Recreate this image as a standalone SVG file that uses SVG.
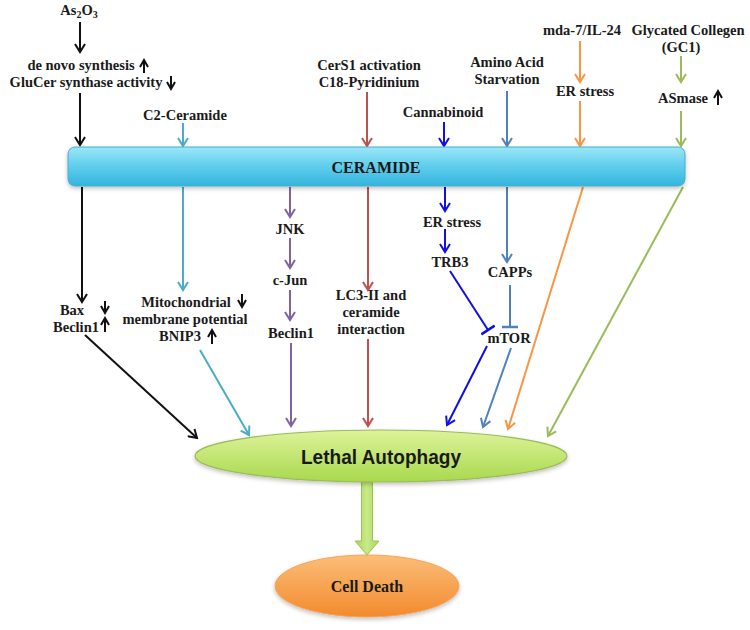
<svg xmlns="http://www.w3.org/2000/svg" width="750" height="630" viewBox="0 0 750 630">
<style>
.t{font-family:"Liberation Serif","Times New Roman",serif;font-weight:bold;font-size:14.5px;fill:#1a1a1a;text-anchor:middle}
.c{fill:none;stroke-width:2}
.k{stroke:#111}.cy{stroke:#4BACC6}.pu{stroke:#8064A2}.rd{stroke:#C0504D}.bl{stroke:#1010E0}.sb{stroke:#4F81BD}.or{stroke:#F79646}.gr{stroke:#9BBB59}
</style>
<defs>
<marker id="ak" markerUnits="userSpaceOnUse" markerWidth="12" markerHeight="12" viewBox="0 0 12 12" refX="10" refY="6" orient="auto"><path d="M2,1 L10,6 L2,11" fill="none" stroke="#111" stroke-width="2"/></marker>
<marker id="acy" markerUnits="userSpaceOnUse" markerWidth="12" markerHeight="12" viewBox="0 0 12 12" refX="10" refY="6" orient="auto"><path d="M2,1 L10,6 L2,11" fill="none" stroke="#4BACC6" stroke-width="2"/></marker>
<marker id="apu" markerUnits="userSpaceOnUse" markerWidth="12" markerHeight="12" viewBox="0 0 12 12" refX="10" refY="6" orient="auto"><path d="M2,1 L10,6 L2,11" fill="none" stroke="#8064A2" stroke-width="2"/></marker>
<marker id="ard" markerUnits="userSpaceOnUse" markerWidth="12" markerHeight="12" viewBox="0 0 12 12" refX="10" refY="6" orient="auto"><path d="M2,1 L10,6 L2,11" fill="none" stroke="#C0504D" stroke-width="2"/></marker>
<marker id="abl" markerUnits="userSpaceOnUse" markerWidth="12" markerHeight="12" viewBox="0 0 12 12" refX="10" refY="6" orient="auto"><path d="M2,1 L10,6 L2,11" fill="none" stroke="#1010E0" stroke-width="2"/></marker>
<marker id="asb" markerUnits="userSpaceOnUse" markerWidth="12" markerHeight="12" viewBox="0 0 12 12" refX="10" refY="6" orient="auto"><path d="M2,1 L10,6 L2,11" fill="none" stroke="#4F81BD" stroke-width="2"/></marker>
<marker id="aor" markerUnits="userSpaceOnUse" markerWidth="12" markerHeight="12" viewBox="0 0 12 12" refX="10" refY="6" orient="auto"><path d="M2,1 L10,6 L2,11" fill="none" stroke="#F79646" stroke-width="2"/></marker>
<marker id="agr" markerUnits="userSpaceOnUse" markerWidth="12" markerHeight="12" viewBox="0 0 12 12" refX="10" refY="6" orient="auto"><path d="M2,1 L10,6 L2,11" fill="none" stroke="#9BBB59" stroke-width="2"/></marker>
<marker id="ask" markerUnits="userSpaceOnUse" markerWidth="10" markerHeight="10" viewBox="0 0 10 10" refX="8" refY="5" orient="auto"><path d="M1,1 L8,5 L1,9" fill="none" stroke="#111" stroke-width="2"/></marker>
<marker id="tbl" markerUnits="userSpaceOnUse" markerWidth="4" markerHeight="16" viewBox="0 0 4 16" refX="2" refY="8" orient="auto"><path d="M2,0 L2,16" stroke="#1010E0" stroke-width="2.5"/></marker>
<marker id="tsb" markerUnits="userSpaceOnUse" markerWidth="4" markerHeight="16" viewBox="0 0 4 16" refX="2" refY="8" orient="auto"><path d="M2,0 L2,16" stroke="#4F81BD" stroke-width="2.5"/></marker>
<linearGradient id="gCer" x1="0" y1="0" x2="0" y2="1"><stop offset="0" stop-color="#9BE6F8"/><stop offset="0.5" stop-color="#5FCDEC"/><stop offset="1" stop-color="#32B5DD"/></linearGradient>
<linearGradient id="gLA" x1="0" y1="0" x2="0" y2="1"><stop offset="0" stop-color="#DDF39A"/><stop offset="1" stop-color="#A9D94E"/></linearGradient>
<linearGradient id="gCD" x1="0" y1="0" x2="0" y2="1"><stop offset="0" stop-color="#FBBE78"/><stop offset="1" stop-color="#F28A2E"/></linearGradient>
<linearGradient id="gAr" x1="0" y1="0" x2="1" y2="0"><stop offset="0" stop-color="#A7D55A"/><stop offset="0.5" stop-color="#C9EA88"/><stop offset="1" stop-color="#A7D55A"/></linearGradient>
<filter id="sh" x="-10%" y="-30%" width="120%" height="170%"><feDropShadow dx="0" dy="2" stdDeviation="2" flood-color="#000" flood-opacity="0.25"/></filter>
</defs>
<rect width="750" height="630" fill="#fff"/>

<g id="connectors">
<path class="c k" d="M80,22 V52" marker-end="url(#ak)"/>
<path class="c k" d="M80,93 V145" marker-end="url(#ak)"/>
<path class="c k" d="M82,187 V302" marker-end="url(#ak)"/>
<path class="c k" d="M85,335 L197,438" marker-end="url(#ak)"/>
<path class="c cy" d="M183,123 V146" marker-end="url(#acy)"/>
<path class="c cy" d="M183,187 V290" marker-end="url(#acy)"/>
<path class="c cy" d="M200,350 L249,435" marker-end="url(#acy)"/>
<path class="c pu" d="M290,187 V217" marker-end="url(#apu)"/>
<path class="c pu" d="M290,238 V268" marker-end="url(#apu)"/>
<path class="c pu" d="M290,290 V320" marker-end="url(#apu)"/>
<path class="c pu" d="M291,343 V426" marker-end="url(#apu)"/>
<path class="c rd" d="M367,92 V146" marker-end="url(#ard)"/>
<path class="c rd" d="M368,187 V290" marker-end="url(#ard)"/>
<path class="c rd" d="M368,339 V426" marker-end="url(#ard)"/>
<path class="c bl" d="M444,122 V146" marker-end="url(#abl)"/>
<path class="c bl" d="M445,187 V211" marker-end="url(#abl)"/>
<path class="c bl" d="M445,229 V252" marker-end="url(#abl)"/>
<path class="c bl" d="M450,271 L488,330" marker-end="url(#tbl)"/>
<path class="c bl" d="M487,346 L447,425" marker-end="url(#abl)"/>
<path class="c sb" d="M507,91 V146" marker-end="url(#asb)"/>
<path class="c sb" d="M507,187 V262" marker-end="url(#asb)"/>
<path class="c sb" d="M510,285 V327" marker-end="url(#tsb)"/>
<path class="c sb" d="M511,348 L483,427" marker-end="url(#asb)"/>
<path class="c or" d="M580,41 V82" marker-end="url(#aor)"/>
<path class="c or" d="M580,101 V146" marker-end="url(#aor)"/>
<path class="c or" d="M583,187 L508,429" marker-end="url(#aor)"/>
<path class="c gr" d="M681,56 V82" marker-end="url(#agr)"/>
<path class="c gr" d="M681,111 V146" marker-end="url(#agr)"/>
<path class="c gr" d="M683,187 L548,436" marker-end="url(#agr)"/>
<path d="M361.5,482 H372.5 V541 H379 L367,555 L355,541 H361.5 Z" fill="url(#gAr)" stroke="#9BC450" stroke-width="1"/>
</g>

<g id="ceramide">
<rect x="68" y="147" width="617" height="39" rx="7" fill="url(#gCer)" stroke="#4BACC6" stroke-width="1" filter="url(#sh)"/>
<text x="376" y="173" class="t" style="font-size:16px">CERAMIDE</text>
</g>

<g id="lethal-autophagy">
<ellipse cx="381" cy="456" rx="186" ry="26" fill="url(#gLA)" stroke="#9BBB59" stroke-width="1.2" filter="url(#sh)"/>
<text x="381" y="464" textLength="160" lengthAdjust="spacingAndGlyphs" style="font-family:'Liberation Sans',Arial,sans-serif;font-weight:bold;font-size:20px;fill:#1a1a1a;text-anchor:middle">Lethal Autophagy</text>
</g>

<g id="cell-death">
<ellipse cx="367" cy="586" rx="92" ry="31" fill="url(#gCD)" stroke="#F5A55A" stroke-width="1" filter="url(#sh)"/>
<text x="367" y="592" class="t" style="font-size:16px">Cell Death</text>
</g>

<g id="as2o3"><text x="79" y="15" class="t">As<tspan dy="3" font-size="10">2</tspan><tspan dy="-3">O</tspan><tspan dy="3" font-size="10">3</tspan></text></g>

<g id="denovo">
<text x="81" y="70" class="t">de novo synthesis</text>
<text x="86" y="87" class="t">GluCer synthase activity</text>
<path class="c k" d="M144,73 V60" marker-end="url(#ask)"/>
<path class="c k" d="M171,76 V89" marker-end="url(#ask)"/>
</g>

<g id="c2"><text x="185" y="120" class="t">C2-Ceramide</text></g>

<g id="bax">
<text x="72" y="315" class="t">Bax</text>
<text x="76" y="332" class="t">Beclin1</text>
<path class="c k" d="M105,301 V313" marker-end="url(#ask)"/>
<path class="c k" d="M105,332 V318" marker-end="url(#ask)"/>
</g>

<g id="mito">
<text x="186" y="307" class="t">Mitochondrial</text>
<text x="185" y="324" class="t">membrane potential</text>
<text x="180" y="341" class="t">BNIP3</text>
<path class="c k" d="M242,294 V307" marker-end="url(#ask)"/>
<path class="c k" d="M212,344 V330" marker-end="url(#ask)"/>
</g>

<g id="jnk"><text x="290" y="234" class="t">JNK</text></g>
<g id="cjun"><text x="290" y="285" class="t">c-Jun</text></g>
<g id="beclin1"><text x="291" y="338" class="t">Beclin1</text></g>

<g id="cers1">
<text x="369" y="70" class="t">CerS1 activation</text>
<text x="369" y="87" class="t">C18-Pyridinium</text>
</g>

<g id="lc3">
<text x="371" y="300" class="t">LC3-II and</text>
<text x="371" y="317" class="t">ceramide</text>
<text x="371" y="334" class="t">interaction</text>
</g>

<g id="cannabinoid"><text x="443" y="117" class="t">Cannabinoid</text></g>
<g id="er-stress-1"><text x="452" y="227" class="t">ER stress</text></g>
<g id="trb3"><text x="450" y="267" class="t">TRB3</text></g>

<g id="amino">
<text x="507" y="67" class="t">Amino Acid</text>
<text x="507" y="84" class="t">Starvation</text>
</g>
<g id="capps"><text x="510" y="277" class="t">CAPPs</text></g>
<g id="mtor"><text x="509" y="343" class="t">mTOR</text></g>

<g id="mda7"><text x="582" y="35" class="t">mda-7/IL-24</text></g>
<g id="er-stress-2"><text x="585" y="96" class="t">ER stress</text></g>

<g id="glycated">
<text x="688" y="35" class="t">Glycated Collegen</text>
<text x="681" y="52" class="t">(GC1)</text>
</g>
<g id="asmase">
<text x="683" y="103" class="t">ASmase</text>
<path class="c k" d="M718,105 V91" marker-end="url(#ask)"/>
</g>
</svg>
